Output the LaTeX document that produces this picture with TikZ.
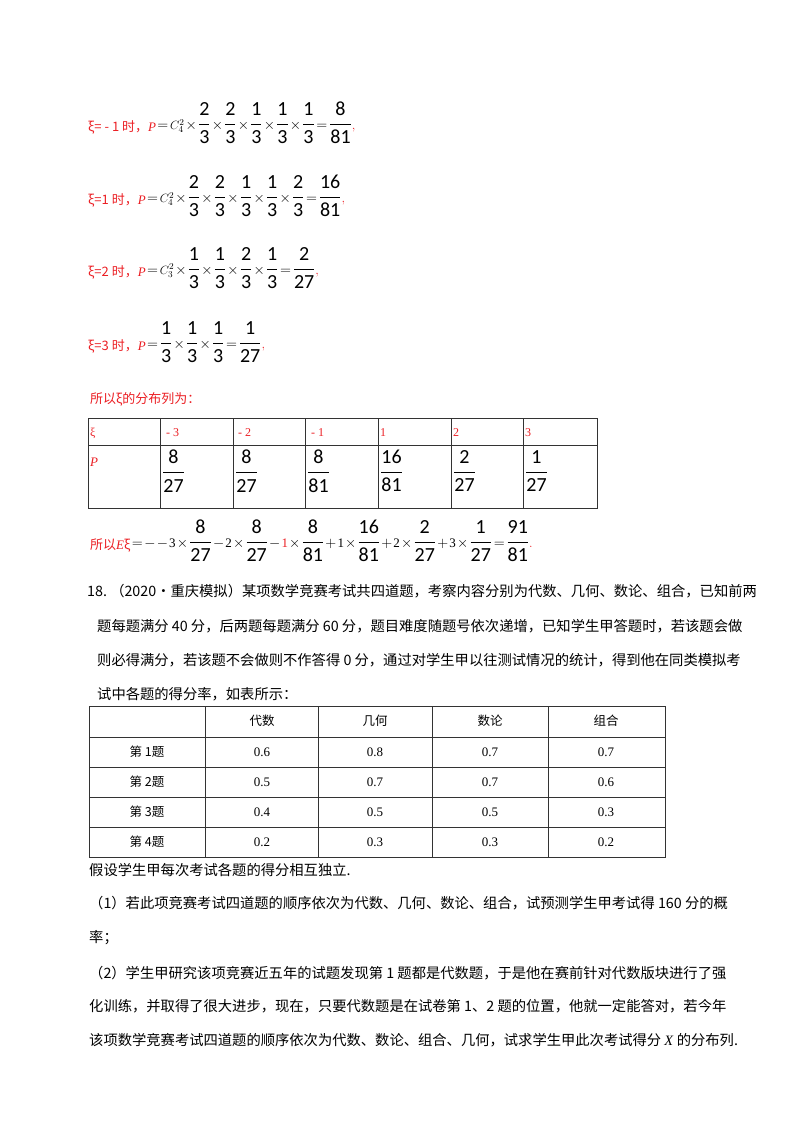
\documentclass[tikz,border=0pt]{standalone}
\usepackage{fontspec}
\usepackage{amsmath}
\newfontfamily\cjk{Noto Sans CJK SC}
\newfontfamily\numf{Carlito}
\newfontfamily\serf{Liberation Serif}
\definecolor{ansred}{RGB}{235,30,35}
\tikzset{
  cn/.style={anchor=base west,inner sep=0pt,font=\cjk\fontsize{14.3}{16}\selectfont},
  rd/.style={anchor=base west,inner sep=0pt,text=ansred,font=\cjk\fontsize{13}{16}\selectfont},
  eq/.style={anchor=west,inner sep=0pt,font=\fontsize{20}{24}\selectfont},
  cell/.style={inner sep=0pt,font=\serf\fontsize{13}{16}\selectfont},
  grid/.style={line width=0.8pt,draw=black!80}
}
\newcommand{\fr}[2]{\dfrac{\text{\numf #1}}{\text{\numf #2}}}
\newcommand{\sm}[1]{\mathbin{\text{\fontsize{14}{16}\selectfont$#1$}}}
\newcommand{\tm}{\sm{\times}}
\newcommand{\eqs}{\mathrel{\text{\fontsize{14}{16}\selectfont$=$}}}
\newcommand{\Cc}[2]{\text{\fontsize{13}{14}\selectfont$C^{#1}_{#2}$}}
\newcommand{\sn}[1]{\text{\fontsize{13}{14}\selectfont\serf #1}}
\begin{document}
\begin{tikzpicture}[x=1pt,y=-1pt]
\medmuskip=1mu \thickmuskip=1.5mu
\useasboundingbox (0,0) rectangle (800,1132);
% answer lines
\node[rd] (l1) at (88,131) {ξ= - 1 时，\textit{\serf P}};
\node[eq] (e1) at ([xshift=1pt,yshift=4pt]l1.east) {$\medmuskip=1mu\thickmuskip=1.5mu\eqs\Cc{2}{4}\tm\fr23\tm\fr23\tm\fr13\tm\fr13\tm\fr13\eqs\fr{8}{81}$\textcolor{ansred}{\fontsize{13}{14}\selectfont,}};
\node[rd] (l2) at (88,204) {ξ=1 时，\textit{\serf P}};
\node[eq] (e2) at ([xshift=1pt,yshift=4pt]l2.east) {$\medmuskip=1mu\thickmuskip=1.5mu\eqs\Cc{2}{4}\tm\fr23\tm\fr23\tm\fr13\tm\fr13\tm\fr23\eqs\fr{16}{81}$\textcolor{ansred}{\fontsize{13}{14}\selectfont,}};
\node[rd] (l3) at (88,276) {ξ=2 时，\textit{\serf P}};
\node[eq] (e3) at ([xshift=1pt,yshift=4pt]l3.east) {$\medmuskip=1mu\thickmuskip=1.5mu\eqs\Cc{2}{3}\tm\fr13\tm\fr13\tm\fr23\tm\fr13\eqs\fr{2}{27}$\textcolor{ansred}{\fontsize{13}{14}\selectfont,}};
\node[rd] (l4) at (88,350) {ξ=3 时，\textit{\serf P}};
\node[eq] (e4) at ([xshift=1pt,yshift=4pt]l4.east) {$\medmuskip=1mu\thickmuskip=1.5mu\eqs\fr13\tm\fr13\tm\fr13\eqs\fr{1}{27}$\textcolor{ansred}{\fontsize{13}{14}\selectfont,}};
\node[rd] (l5) at (90,403) {所以ξ的分布列为：};
% table 1
\draw[grid] (88,418) rectangle (597,508);
\draw[grid] (88,445) -- (597,445);
\foreach \x in {160,233,305,378,451,523} \draw[grid] (\x,418) -- (\x,508);
\foreach \x/\t in {90/ξ,166/- 3,238/- 2,311/- 1,380/1,453/2,525/3}
  \node[rd,font=\serf\fontsize{12}{14}\selectfont] at (\x,436) {\t};
\node[rd,font=\serf\itshape\fontsize{13}{14}\selectfont] at (90,466) {P};
\foreach \x/\a/\b in {162/8/27,235/8/27,307/8/81,380/16/81,453/2/27,525/1/27}
  \node[anchor=north west,inner sep=0pt,font=\fontsize{20}{24}\selectfont] at (\x,450) {$\fr{\a}{\b}$};
% expectation
\node[rd] (l6) at (90,549) {所以\textit{\serf E}ξ};
\node[eq] (e6) at ([xshift=1pt,yshift=4pt]l6.east) {$\medmuskip=1mu\thickmuskip=1.5mu\eqs\sm{-}\sm{-}\sn{3}\tm\fr{8}{27}\sm{-}\sn{2}\tm\fr{8}{27}\sm{-}\text{\fontsize{13}{14}\selectfont\serf\color{ansred}1}\tm\fr{8}{81}\sm{+}\sn{1}\tm\fr{16}{81}\sm{+}\sn{2}\tm\fr{2}{27}\sm{+}\sn{3}\tm\fr{1}{27}\eqs\fr{91}{81}$\textcolor{ansred}{\fontsize{13}{14}\selectfont.}};
% problem 18
\node[cn] (p1) at (87,596) {18.\ （2020•重庆模拟）某项数学竞赛考试共四道题，考察内容分别为代数、几何、数论、组合，已知前两};
\node[cn] (p2) at (97,631) {题每题满分 40 分，后两题每题满分 60 分，题目难度随题号依次递增，已知学生甲答题时，若该题会做};
\node[cn] (p3) at (97,665) {则必得满分，若该题不会做则不作答得 0 分，通过对学生甲以往测试情况的统计，得到他在同类模拟考};
\node[cn] (p4) at (97,699) {试中各题的得分率，如表所示：};
% table 2
\draw[grid] (89,706) rectangle (665,857);
\foreach \y in {737,767,797,827} \draw[grid] (89,\y) -- (665,\y);
\foreach \x in {205,318,432,548} \draw[grid] (\x,706) -- (\x,857);
\foreach \x/\t in {262/代数,375/几何,490/数论,606/组合}
  \node[cell,font=\cjk\fontsize{12.5}{15}\selectfont] at (\x,721) {\t};
\foreach \y/\r/\a/\b/\c/\d in {752/1/0.6/0.8/0.7/0.7,782/2/0.5/0.7/0.7/0.6,812/3/0.4/0.5/0.5/0.3,842/4/0.2/0.3/0.3/0.2}{
  \node[cell,font=\cjk\fontsize{12.5}{15}\selectfont] at (147,\y) {第 \r 题};
  \node[cell] at (262,\y) {\a};
  \node[cell] at (375,\y) {\b};
  \node[cell] at (490,\y) {\c};
  \node[cell] at (606,\y) {\d};
}
\node[cn] (q1) at (89,875) {假设学生甲每次考试各题的得分相互独立.};
\node[cn] (q2) at (89,908) {（1）若此项竞赛考试四道题的顺序依次为代数、几何、数论、组合，试预测学生甲考试得 160 分的概};
\node[cn] (q3) at (89,942) {率；};
\node[cn] (q4) at (89,978) {（2）学生甲研究该项竞赛近五年的试题发现第 1 题都是代数题，于是他在赛前针对代数版块进行了强};
\node[cn] (q5) at (89,1011) {化训练，并取得了很大进步，现在，只要代数题是在试卷第 1、2 题的位置，他就一定能答对，若今年};
\node[cn] (q6) at (89,1045) {该项数学竞赛考试四道题的顺序依次为代数、数论、组合、几何，试求学生甲此次考试得分 \textit{\serf X} 的分布列.};
\end{tikzpicture}
\end{document}
